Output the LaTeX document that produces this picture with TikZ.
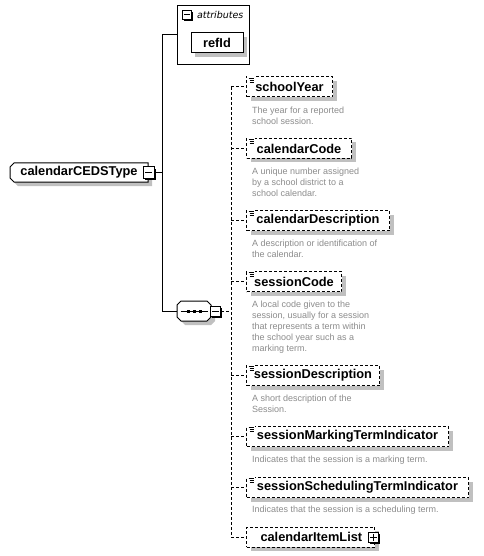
\documentclass[tikz,border=0pt]{standalone}
\usepackage{fontspec}
\setmainfont{Liberation Sans}
\newfontfamily\attrfont{DejaVu Sans}
\usetikzlibrary{shadows}
\definecolor{shd}{RGB}{192,192,192}
\definecolor{desctext}{RGB}{140,140,140}
\tikzset{
  every path/.style={line width=1pt},
  namefont/.style={font=\fontsize{12.8}{14}\selectfont\bfseries},
  graysh/.style={drop shadow={shadow xshift=4pt,shadow yshift=-4pt,fill=shd,opacity=1}},
  elem/.style={draw, dash pattern=on 3pt off 2pt, fill=white, minimum height=20pt,
    inner xsep=0pt, inner ysep=0pt, anchor=west, namefont, graysh},
  attrel/.style={draw, fill=white, minimum height=20pt, minimum width=52pt,
    inner sep=0pt, namefont, graysh},
  plainbox/.style={inner sep=0pt},
  toggle/.style={draw, fill=white, minimum size=#1, inner sep=0pt,
    drop shadow={shadow xshift=1.5pt,shadow yshift=-1.5pt,fill=black,opacity=1}},
  desc/.style={anchor=north west, align=left, inner sep=0pt, text=desctext,
    font=\fontsize{9}{11}\selectfont},
  dashline/.style={dash pattern=on 3pt off 2pt},
  elemicon/.pic={
    \fill[white] (0,0) rectangle (8,8);
    \draw[line width=0.8pt] (2,2) -- (7,2) (3,4) -- (7,4) (3,6) -- (7,6);
  }
}
\begin{document}
\begin{tikzpicture}[x=1pt,y=-1pt]
\useasboundingbox[fill=white] (0,0) rectangle (483,556);

% attributes group
\node[draw, minimum width=72pt, minimum height=59pt, inner sep=0pt, anchor=north west] (attrs) at (177,5) {};
\node[toggle=9pt] (attrtoggle) at (187,15) {};
\draw ([xshift=2pt]attrtoggle.west) -- ([xshift=-2pt]attrtoggle.east);
\node[anchor=base west, inner sep=0pt, font=\attrfont\fontsize{9.5}{11}\selectfont\itshape] (attrlabel) at (196.5,18.5) {attributes};
\node[attrel] (refId) at (217,43) {refId};

% complex type (left corners chamfered)
\fill[shd] (18,167) -- (152,167) -- (152,186) -- (18,186) -- (14,182) -- (14,171) -- cycle;
\filldraw[fill=white] (14,163) -- (148,163) -- (148,182) -- (14,182) -- (10,178) -- (10,167) -- cycle;
\node[plainbox, namefont, minimum width=138pt, minimum height=19pt] (type) at (79,172.5) {calendarCEDSType};
\node[toggle=11pt] (typetoggle) at (148.5,172.5) {};
\draw ([xshift=2.5pt]typetoggle.west) -- ([xshift=-2.5pt]typetoggle.east);

% sequence (all corners chamfered)
\fill[shd] (185,305) -- (211,305) -- (215,309) -- (215,321) -- (211,325) -- (185,325) -- (181,321) -- (181,309) -- cycle;
\filldraw[fill=white] (181,301) -- (207,301) -- (211,305) -- (211,317) -- (207,321) -- (181,321) -- (177,317) -- (177,305) -- cycle;
\node[plainbox, minimum width=34pt, minimum height=20pt] (seq) at (194,311) {};
\draw ([xshift=4pt]seq.west) -- ([xshift=-4pt]seq.east);
\foreach \dx in {-6,0,6} \fill ([xshift=\dx pt]seq.center) ++(-1.5,-1.5) rectangle ++(3,3);
\node[toggle=10pt] (seqtoggle) at (215.5,311) {};
\draw ([xshift=2pt]seqtoggle.west) -- ([xshift=-2pt]seqtoggle.east);

% solid connectors
\coordinate (trunk) at (162,172.5);
\draw (typetoggle.east) -- (trunk);
\draw (attrs.west) -| (trunk |- seq.west) -- (seq.west);

% children
\node[elem, minimum width=86pt] (schoolYear) at (246,87) {schoolYear};
\node[elem, minimum width=105pt] (calendarCode) at (246,148.5) {calendarCode};
\node[elem, minimum width=143pt] (calendarDescription) at (246,220.5) {calendarDescription};
\node[elem, minimum width=95pt] (sessionCode) at (246,281.5) {sessionCode};
\node[elem, minimum width=133pt] (sessionDescription) at (246,375.5) {sessionDescription};
\node[elem, minimum width=202pt] (sessionMarkingTermIndicator) at (246,436.5) {sessionMarkingTermIndicator};
\node[elem, minimum width=222pt] (sessionSchedulingTermIndicator) at (246,487.5) {sessionSchedulingTermIndicator};
\node[elem, minimum width=128pt, text width=118pt, align=left, inner xsep=0pt] (calendarItemList) at (246,537) {\hspace*{9pt}calendarItemList};
\node[toggle=10pt] (listtoggle) at (373.5,537) {};
\draw ([xshift=2pt]listtoggle.west) -- ([xshift=-2pt]listtoggle.east);
\draw ([yshift=2pt]listtoggle.south) -- ([yshift=-2pt]listtoggle.north);

\foreach \n in {schoolYear,calendarCode,calendarDescription,sessionCode,sessionDescription,sessionMarkingTermIndicator,sessionSchedulingTermIndicator}
  \pic at ([xshift=0.5pt,yshift=0.5pt]\n.north west) {elemicon};

% dashed connectors
\coordinate (bus) at (231,311);
\draw[dashline] (seqtoggle.east) -- (bus);
\draw[dashline] (schoolYear.west -| bus) -- (calendarItemList.west -| bus);
\foreach \n in {schoolYear,calendarCode,calendarDescription,sessionCode,sessionDescription,sessionMarkingTermIndicator,sessionSchedulingTermIndicator,calendarItemList}
  \draw[dashline] (\n.west -| bus) -- (\n.west);

% descriptions (y = first baseline - 7.7)
\node[desc] (d1) at (251.5,105.3) {\strut The year for a reported\\school session.};
\node[desc] (d2) at (251.5,166.3) {\strut A unique number assigned\\by a school district to a\\school calendar.};
\node[desc] (d3) at (251.5,238.3) {\strut A description or identification of\\the calendar.};
\node[desc] (d4) at (251.5,298.8) {\strut A local code given to the\\session, usually for a session\\that represents a term within\\the school year such as a\\marking term.};
\node[desc] (d5) at (251.5,392.8) {\strut A short description of the\\Session.};
\node[desc] (d6) at (251.5,454.3) {\strut Indicates that the session is a marking term.};
\node[desc] (d7) at (251.5,503.8) {\strut Indicates that the session is a scheduling term.};
\end{tikzpicture}
\end{document}
